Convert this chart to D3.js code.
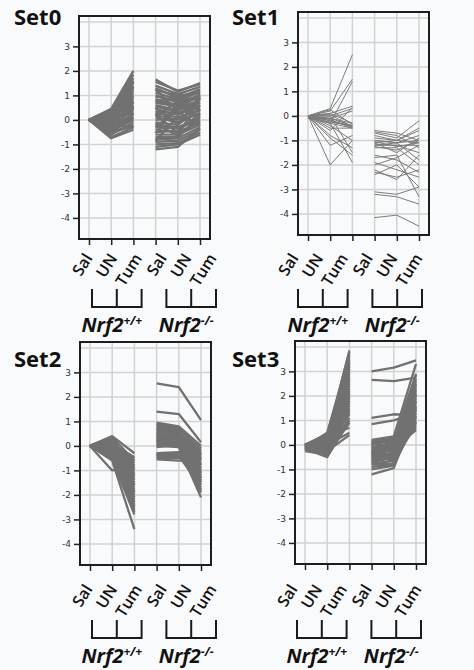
<!DOCTYPE html>
<html>
<head>
<meta charset="utf-8">
<script src="https://cdn.jsdelivr.net/npm/d3@7"></script>
<style>
  body { margin: 0; background: #fff; }
</style>
</head>
<body>
<div id="chart"></div>
<script>
// categories and labels
var categories = ["Sal", "UN", "Tum"];
var genotypes = ["+/+", "-/-"];
var setNames = ["Set0", "Set1", "Set2", "Set3"];
var yTicks = [-4, -3, -2, -1, 0, 1, 2, 3];
var yGrid = [-4, -3, -2, -1, 0, 1, 2, 3, 4];

// one row per gene: [WT Sal, WT UN, WT Tum, KO Sal, KO UN, KO Tum]
var set0 = [
  [0, 0.45, 2.0, 1.65, 1.15, 1.5], [0, 0.4, 1.85, 1.55, 1.2, 1.45], [0, 0.3, 1.7, 1.4, 1.05, 1.35],
  [0, 0.35, 1.5, 1.3, 0.9, 1.25], [0, 0.2, 1.4, 1.2, 1.0, 1.1], [0, 0.25, 1.3, 1.1, 0.85, 1.2],
  [0, 0.1, 1.2, 1.0, 0.7, 1.0], [0, 0.15, 1.1, 0.95, 0.8, 0.9], [0, 0.0, 1.0, 0.85, 0.6, 1.05],
  [0, -0.1, 0.9, 0.8, 0.5, 0.8], [0, 0.05, 0.8, 0.7, 0.55, 0.95], [0, -0.2, 0.7, 0.6, 0.4, 0.7],
  [0, -0.15, 0.6, 0.55, 0.3, 0.6], [0, -0.3, 0.5, 0.45, 0.2, 0.85], [0, -0.25, 0.4, 0.35, 0.25, 0.5],
  [0, -0.4, 0.3, 0.3, 0.1, 0.4], [0, -0.35, 0.2, 0.2, 0.0, 0.6], [0, -0.5, 0.1, 0.1, -0.1, 0.3],
  [0, -0.45, 0.0, 0.0, 0.05, 0.2], [0, -0.6, -0.1, -0.1, -0.2, 0.45], [0, -0.55, -0.2, -0.2, -0.3, 0.1],
  [0, -0.7, -0.3, -0.3, -0.35, 0.0], [0, -0.75, -0.4, -0.4, -0.5, -0.1], [0, 0.3, 1.0, -0.5, -0.45, 0.25],
  [0, 0.2, 0.6, -0.6, -0.6, -0.2], [0, 0.1, 0.3, -0.7, -0.7, 0.15], [0, -0.05, 0.0, -0.8, -0.75, -0.3],
  [0, 0.4, 0.9, -0.9, -0.85, -0.4], [0, -0.2, -0.3, -1.0, -0.95, -0.5], [0, 0.0, 0.5, -1.1, -1.0, -0.6],
  [0, -0.3, 0.1, -1.2, -1.1, -0.35], [0, 0.15, 1.6, 0.5, -0.2, 1.0], [0, -0.1, 1.35, -0.3, 0.45, 0.7],
  [0, 0.25, 0.45, 0.25, -0.55, -0.05], [0, -0.4, 0.55, 0.75, 0.95, 0.35], [0, -0.6, 0.25, -0.55, 0.65, 0.55],
  [0, 0.35, 1.2, 1.25, 0.35, -0.25], [0, -0.25, 0.75, -0.15, -0.65, 0.9], [0, 0.05, 1.55, 0.15, 0.75, 1.15],
  [0, -0.5, -0.25, -0.85, 0.15, -0.15]
];

var set1 = [
  [0, 0.3, 2.5, -0.6, -0.7, -1.0], [0, 0.2, 1.5, -0.7, -0.9, -0.2], [0, 0.1, 0.4, -0.8, -1.0, -0.6],
  [0, 0.0, 0.3, -1.0, -1.1, -1.0], [0, -0.1, -0.3, -1.1, -1.0, -1.1], [0, -0.2, -0.4, -1.2, -1.2, -1.5],
  [0, -0.3, -0.5, -1.0, -1.1, -0.8], [-0.1, -0.1, -0.4, -1.15, -1.2, -1.2], [0, -0.2, -0.45, -1.3, -1.3, -2.0],
  [0, -0.5, -0.5, -1.1, -1.5, -0.9], [0, -0.8, -1.3, -1.6, -1.8, -2.3], [0, -1.2, -0.8, -2.0, -1.7, -1.2],
  [0, -2.0, -1.0, -2.2, -2.6, -1.6], [-0.1, -0.3, -1.9, -2.4, -2.0, -2.9], [0, 0.0, -1.5, -3.1, -3.2, -2.9],
  [0, -0.1, 0.2, -3.2, -3.3, -3.6], [0, 0.25, -0.35, -4.15, -4.05, -4.5], [0, -0.4, -1.0, -0.9, -1.0, -0.5],
  [0, -0.6, 0.35, -1.2, -1.1, -1.8], [0, 0.1, -0.3, -1.7, -1.6, -3.3], [0, -0.15, -0.5, -1.25, -1.4, -1.0],
  [0, -0.3, 1.4, -1.9, -2.2, -2.5], [-0.05, -0.25, -0.4, -0.65, -0.8, -1.3], [0, 0.05, -0.45, -1.05, -1.25, -1.1],
  [0, -0.9, -1.6, -2.3, -2.5, -2.2]
];

var set2 = [
  [0, 0.1, -0.5, 2.55, 2.4, 1.05], [0, 0.2, -0.8, 1.4, 1.3, 0.15], [0, 0.4, -0.3, 0.95, 0.8, 0.0],
  [0, 0.35, -0.6, 0.9, 0.75, -0.3], [0, 0.3, -1.0, 0.8, 0.7, -0.1], [0, 0.25, -1.2, 0.75, 0.6, -0.5],
  [0, 0.15, -0.9, 0.7, 0.5, -0.8], [0, 0.1, -1.4, 0.6, 0.55, -0.2], [0, 0.0, -1.1, 0.55, 0.4, -1.0],
  [0, -0.05, -1.6, 0.5, 0.35, -0.6], [0, -0.1, -1.3, 0.45, 0.3, -1.2], [0, -0.15, -1.8, 0.4, 0.45, -0.4],
  [0, -0.2, -1.5, 0.35, 0.2, -1.4], [0, -0.25, -2.0, 0.3, 0.25, -0.7], [0, -0.3, -1.7, 0.25, 0.1, -1.6],
  [0, -0.35, -2.2, 0.2, 0.15, -0.9], [0, -0.4, -1.9, 0.15, 0.05, -1.1], [0, -0.45, -2.4, 0.1, 0.0, -1.8],
  [0, -0.5, -2.6, 0.05, 0.3, -1.3], [0, -0.55, -2.8, 0.0, -0.05, -2.1], [0, -0.6, -3.4, -0.3, -0.25, -0.5],
  [0, -0.3, -2.3, -0.35, -0.3, -0.9], [0, -1.0, -0.9, -0.4, -0.35, -1.5], [0, 0.05, -0.45, -0.45, -0.45, -1.0],
  [0, 0.2, -0.7, -0.5, -0.5, -0.3], [0, -0.2, -1.0, -0.55, -0.6, -0.6], [0, -0.1, -2.1, -0.35, -0.4, -1.7],
  [0, 0.3, -1.2, 0.65, 0.6, -0.35], [0, -0.4, -1.5, 0.85, 0.65, -1.1], [0, 0.1, -2.5, 0.5, 0.5, -1.3],
  [0, -0.25, -0.8, 0.3, 0.35, -0.75], [0, 0.25, -1.6, 0.2, 0.1, -0.45], [0, -0.45, -1.2, 0.0, 0.2, -1.45],
  [0, 0.35, -1.9, 0.4, 0.15, -0.15], [0, -0.15, -2.7, -0.05, 0.05, -1.9], [0, 0.0, -0.6, 0.7, 0.4, -0.55]
];

var set3 = [
  [0, 0.2, 3.85, 3.0, 3.15, 3.45], [-0.1, 0.5, 3.6, 2.65, 2.6, 2.75], [0, 0.3, 3.4, 1.1, 1.25, 1.2],
  [-0.05, 0.1, 3.2, 0.85, 1.0, 1.3], [0, 0.4, 3.0, 0.2, 0.35, 3.3], [-0.15, 0.0, 2.8, 0.1, 0.2, 2.9],
  [-0.2, -0.1, 2.6, 0.0, 0.3, 2.6], [0, 0.25, 2.4, -0.1, 0.1, 2.4], [-0.1, -0.2, 2.2, -0.2, 0.0, 2.2],
  [-0.05, 0.15, 2.0, -0.3, -0.1, 2.0], [-0.2, -0.3, 1.8, -0.4, -0.2, 1.8], [0, 0.05, 1.6, -0.5, -0.3, 1.6],
  [-0.25, -0.4, 1.4, -0.6, -0.4, 1.4], [-0.1, -0.05, 1.25, -0.7, -0.5, 1.2], [-0.15, -0.5, 1.0, -0.15, 0.05, 1.0],
  [0, 0.35, 0.7, -0.25, -0.6, 0.8], [-0.05, 0.0, 0.5, -0.35, -0.15, 0.6], [-0.2, -0.25, 0.4, -0.45, -0.35, 0.7],
  [0, 0.45, 2.9, -0.8, -0.75, 0.9], [-0.1, 0.2, 3.7, -1.0, -0.85, 1.1], [-0.05, -0.15, 3.3, -1.2, -0.95, 1.5],
  [-0.2, 0.1, 2.5, 0.15, 0.25, 1.7], [0, -0.35, 1.9, -0.05, -0.25, 2.1], [-0.15, 0.3, 3.5, -0.55, -0.45, 2.5],
  [-0.1, -0.45, 1.5, -0.65, -0.55, 1.9], [0, 0.05, 2.3, 0.05, 0.15, 2.7], [-0.05, -0.2, 1.7, -0.3, -0.7, 1.3],
  [-0.2, 0.15, 2.7, -0.45, -0.05, 2.3], [-0.1, -0.3, 1.1, -0.2, -0.45, 0.95], [0, 0.25, 3.1, 0.0, 0.2, 1.75],
  [-0.15, -0.1, 2.1, -0.6, -0.3, 1.45], [-0.05, 0.4, 3.8, -0.75, -0.65, 2.05], [-0.2, -0.4, 0.9, 0.1, -0.2, 1.15],
  [-0.1, 0.1, 1.3, -0.35, 0.1, 2.85], [0, -0.15, 2.0, -0.9, -0.8, 1.6]
];

var sets = [set0, set1, set2, set3];

// layout of the four panels
var panels = [
  { left: 79,  top: 16,  titleX: 14,  titleY: 25,  annLeft: 92,  annTop: 289 },
  { left: 298, top: 12,  titleX: 232, titleY: 25,  annLeft: 298, annTop: 289 },
  { left: 80,  top: 342, titleX: 14,  titleY: 367, annLeft: 92,  annTop: 620 },
  { left: 295, top: 341, titleX: 232, titleY: 367, annLeft: 297, annTop: 620 }
];

var plotW = 131, plotH = 223;

var svg = d3.select("#chart")
  .append("svg")
  .attr("width", 474)
  .attr("height", 670);

svg.append("rect")
  .attr("width", 474)
  .attr("height", 670)
  .attr("fill", "#f9fafb");

var x = d3.scaleLinear().domain([-0.45, 5.45]).range([0, plotW]);
var y = d3.scaleLinear().domain([-4.86, 4.24]).range([plotH, 0]);

var line = d3.line()
  .x(function(d) { return x(d.i); })
  .y(function(d) { return y(d.v); });

panels.forEach(function(p, k) {
  var g = svg.append("g")
    .attr("transform", "translate(" + p.left + "," + p.top + ")");

  // grid
  g.selectAll(".hgrid")
    .data(yGrid)
    .enter().append("line")
    .attr("x1", 0).attr("x2", plotW)
    .attr("y1", function(d) { return y(d); })
    .attr("y2", function(d) { return y(d); })
    .attr("stroke", "#d2d2d2").attr("stroke-width", 1.5);

  g.selectAll(".vgrid")
    .data(d3.range(6))
    .enter().append("line")
    .attr("y1", 0).attr("y2", plotH)
    .attr("x1", function(d) { return x(d); })
    .attr("x2", function(d) { return x(d); })
    .attr("stroke", "#d2d2d2").attr("stroke-width", 1.5);

  // profile lines, one segment per genotype
  var segs = [];
  sets[k].forEach(function(row) {
    segs.push([0, 1, 2].map(function(i) { return { i: i, v: row[i] }; }));
    segs.push([3, 4, 5].map(function(i) { return { i: i, v: row[i] }; }));
  });
  g.selectAll(".prof")
    .data(segs)
    .enter().append("path")
    .attr("d", line)
    .attr("fill", "none")
    .attr("stroke", k == 1 ? "#7c7c7c" : "#717171")
    .attr("stroke-width", k == 1 ? 1 : 2.3)
    .attr("stroke-linejoin", "round");

  // axes
  var yAxis = g.append("g")
    .call(d3.axisLeft(y).tickValues(yTicks).tickSize(6).tickPadding(3).tickFormat(d3.format("d")));
  yAxis.select(".domain").remove();
  yAxis.selectAll("line").attr("stroke", "#222").attr("stroke-width", 1.5);
  yAxis.selectAll("text")
    .attr("font-family", "DejaVu Sans")
    .attr("font-size", 9)
    .attr("fill", "#333")
    .text(function(d) { return d < 0 ? "-" + (-d) : d; });

  var xAxis = g.append("g")
    .attr("transform", "translate(0," + plotH + ")")
    .call(d3.axisBottom(x).tickValues(d3.range(6)).tickSize(6).tickFormat(""));
  xAxis.select(".domain").remove();
  xAxis.selectAll("line").attr("stroke", "#222").attr("stroke-width", 1.5);

  // frame
  g.append("rect")
    .attr("width", plotW).attr("height", plotH)
    .attr("fill", "none")
    .attr("stroke", "#1e1e1e")
    .attr("stroke-width", 2);

  // title
  svg.append("text")
    .attr("x", p.titleX).attr("y", p.titleY)
    .attr("font-family", "Open Sans")
    .attr("font-weight", "bold")
    .attr("font-size", 22)
    .attr("fill", "#111")
    .text(setNames[k]);

  // condition labels, brackets and genotype labels
  var xa = d3.scaleLinear().domain([0, 5]).range([p.annLeft, p.annLeft + 124]);

  svg.selectAll(".cat" + k)
    .data(d3.range(6))
    .enter().append("text")
    .attr("transform", function(d) {
      return "translate(" + (xa(d) + 1) + "," + (p.annTop - 31) + ") rotate(-58)";
    })
    .attr("text-anchor", "end")
    .attr("font-family", "Open Sans")
    .attr("font-weight", 600)
    .attr("font-size", 16)
    .attr("fill", "#111")
    .text(function(d) { return categories[d % 3]; });

  [0, 1].forEach(function(gi) {
    var a = xa(gi * 3), b = xa(gi * 3 + 1), c = xa(gi * 3 + 2);
    svg.append("path")
      .attr("d", "M" + a + "," + p.annTop + "V" + (p.annTop + 18) + "H" + c + "V" + p.annTop +
                 "M" + b + "," + p.annTop + "V" + (p.annTop + 18))
      .attr("fill", "none")
      .attr("stroke", "#1a1a1a")
      .attr("stroke-width", 2);

    var t = svg.append("text")
      .attr("x", b - 5)
      .attr("y", p.annTop + 43)
      .attr("text-anchor", "middle")
      .attr("font-family", "Open Sans")
      .attr("font-weight", "bold")
      .attr("font-style", "italic")
      .attr("font-size", 20)
      .attr("fill", "#111");
    t.append("tspan").text("Nrf2");
    t.append("tspan")
      .attr("dy", -7)
      .attr("font-size", 12)
      .text(genotypes[gi]);
  });
});
</script>
</body>
</html>
